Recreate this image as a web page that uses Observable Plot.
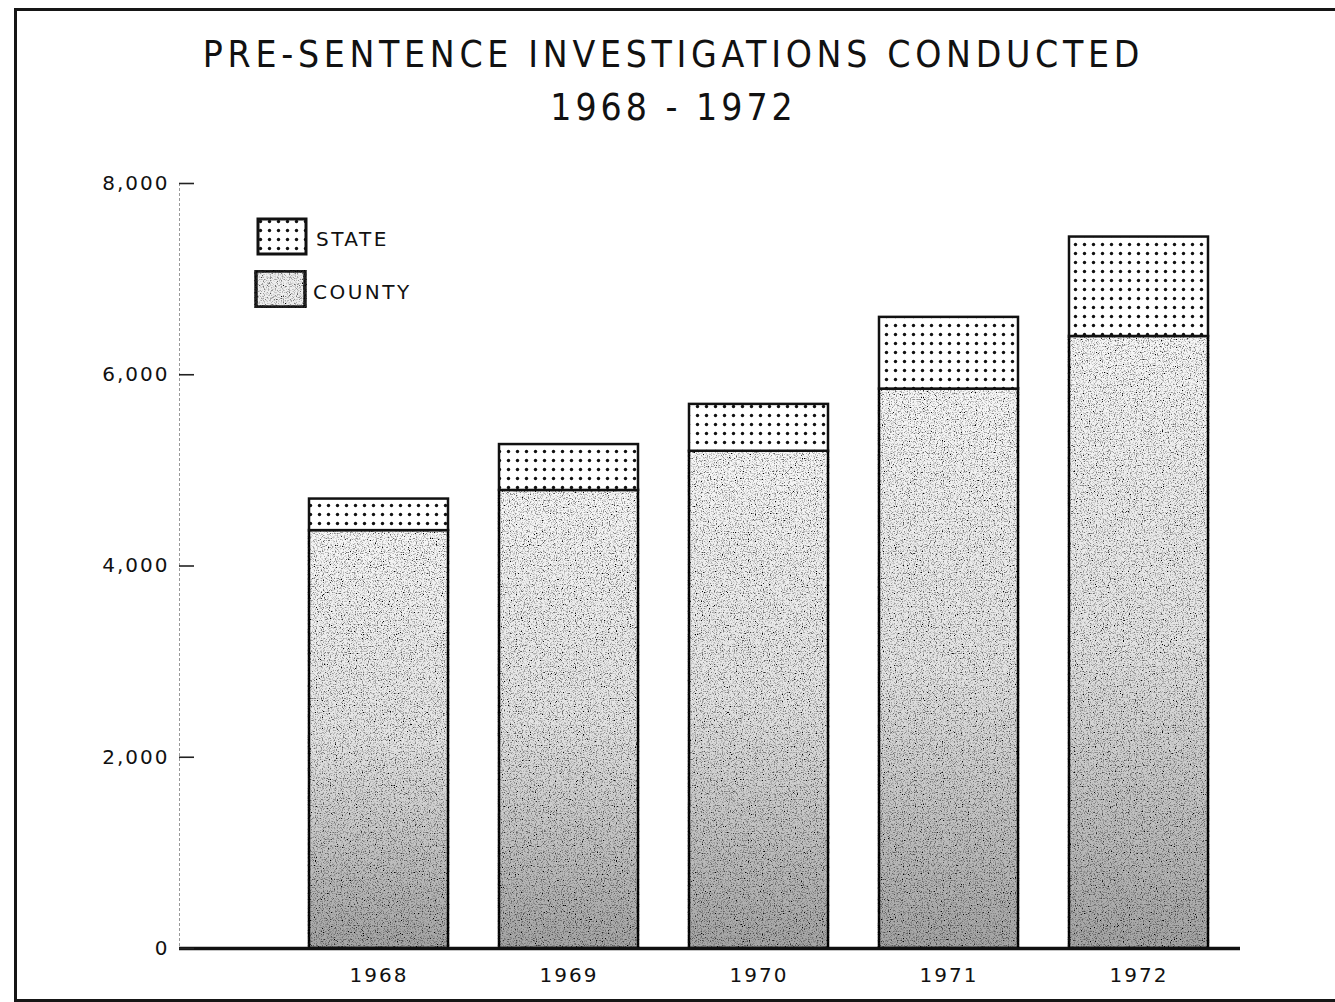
<!DOCTYPE html>
<html><head><meta charset="utf-8">
<script src="https://cdn.jsdelivr.net/npm/d3@7"></script>
<script src="https://cdn.jsdelivr.net/npm/@observablehq/plot@0.6"></script>
<style>
html,body{margin:0;padding:0;background:#fff;}
body{width:1335px;height:1002px;position:relative;overflow:hidden;font-family:"DejaVu Sans",sans-serif;color:#111;}
#frame{position:absolute;left:14px;top:8px;width:1360px;height:994px;border:3px solid #161616;box-sizing:border-box;}
.t{position:absolute;left:0;width:1335px;text-align:center;font-family:"DejaVu Sans Condensed","DejaVu Sans",sans-serif;font-stretch:condensed;font-size:37px;line-height:1.164;letter-spacing:4.7px;white-space:nowrap;}
#t1{top:33px;left:6px;}
#t2{top:86px;letter-spacing:4px;left:6px;}
.lg{position:absolute;font-size:20px;line-height:1.164;letter-spacing:2.5px;}
#chart{position:absolute;left:0;top:150px;}
.sw{position:absolute;}
</style>
</head><body>
<svg width="0" height="0" style="position:absolute">
  <defs>
    <pattern id="state" width="9" height="9" patternUnits="userSpaceOnUse">
      <rect width="9" height="9" fill="#fff"/>
      <circle cx="4.5" cy="4.5" r="1.7" fill="#111"/>
    </pattern>
    <linearGradient id="county" x1="0" y1="0" x2="0" y2="1">
      <stop offset="0" stop-color="#f7f7f7"/>
      <stop offset="0.5" stop-color="#e4e4e4"/>
      <stop offset="1" stop-color="#a4a4a4"/>
    </linearGradient>
    <filter id="grain" x="-0.05" y="-0.02" width="1.1" height="1.04">
      <feTurbulence type="fractalNoise" baseFrequency="0.85" numOctaves="2" seed="7" result="noise"/>
      <feColorMatrix in="noise" type="matrix" values="0 0 0 0 0  0 0 0 0 0  0 0 0 0 0  0 0 0 3.2 -1.55" result="spk"/>
      <feComposite in="spk" in2="SourceAlpha" operator="in" result="spk2"/>
      <feMerge><feMergeNode in="SourceGraphic"/><feMergeNode in="spk2"/></feMerge>
    </filter>
  </defs>
</svg>
<div id="frame"></div>
<div class="t" id="t1">PRE-SENTENCE INVESTIGATIONS CONDUCTED</div>
<div class="t" id="t2">1968 - 1972</div>
<div id="chart"></div>
<svg class="sw" style="left:256px;top:217px" width="52" height="40"><rect x="2" y="2" width="48" height="35" fill="url(#state)" stroke="#111" stroke-width="3"/></svg>
<svg class="sw" style="left:254px;top:269px" width="54" height="40"><rect x="2" y="2" width="49" height="36" fill="#eeeeee" stroke="#222" stroke-width="3.5" filter="url(#grain)"/></svg>
<div class="lg" style="left:316px;top:228px">STATE</div>
<div class="lg" style="left:313px;top:281px">COUNTY</div>
<script>
const years = ["1968", "1969", "1970", "1971", "1972"];
const county = [4370, 4790, 5200, 5850, 6400];
const state = [330, 480, 490, 750, 1040];
const yTicks = [0, 2000, 4000, 6000, 8000];
const series = ["County", "State"];

const rows = years.flatMap((yr, i) => [
  {year: yr, type: "County", value: county[i]},
  {year: yr, type: "State", value: state[i]}
]);

const fmt = d3.format(",");

const chart = Plot.plot({
  width: 1335,
  height: 852,
  marginLeft: 179,
  marginRight: 95,
  marginTop: 33,
  marginBottom: 54,
  x: {domain: years, range: [255, 1261], paddingInner: 0.27, paddingOuter: 0.27, axis: null},
  y: {domain: [0, 8000], axis: null},
  color: {domain: series, range: ["url(#county)", "url(#state)"]},
  style: {fontFamily: "DejaVu Sans", fontSize: "20px", color: "#111", background: "transparent", letterSpacing: "2px"},
  marks: [
    Plot.frame({anchor: "left", stroke: "#9a9a9a", strokeDasharray: "2,3"}),
    Plot.barY(rows, {x: "year", y: "value", fill: "type", stroke: "#111", strokeWidth: 2.5}),
    Plot.ruleY([0], {stroke: "#111", strokeWidth: 3.5}),
    Plot.axisY({ticks: yTicks, tickSize: 15, dx: 15, fill: "none", stroke: "#222", strokeWidth: 1.6, label: null}),
    Plot.axisY({ticks: yTicks, tickSize: 0, tickPadding: 10, tickFormat: fmt, label: null}),
    Plot.axisX({tickSize: 0, tickPadding: 19, label: null})
  ]
});
d3.select(chart).selectAll("rect").filter(function() { return this.getAttribute("fill") === "url(#county)"; }).attr("filter", "url(#grain)");
document.getElementById("chart").appendChild(chart);
</script>
</body></html>
